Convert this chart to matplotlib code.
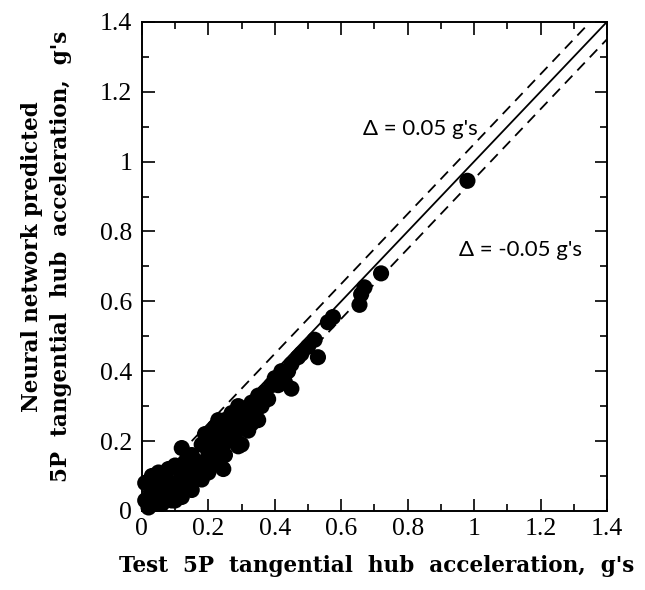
import matplotlib
matplotlib.use("Agg")
import matplotlib.pyplot as plt
import numpy as np

test_x = [0.01, 0.01, 0.03, 0.04, 0.05, 0.06, 0.07, 0.08, 0.09, 0.10, 0.11,
          0.05, 0.08, 0.10, 0.12, 0.13, 0.12, 0.14, 0.15, 0.16, 0.17, 0.18,
          0.19, 0.20, 0.21, 0.22, 0.23, 0.22, 0.24, 0.25, 0.26, 0.27, 0.27,
          0.28, 0.29, 0.30, 0.30, 0.31, 0.32, 0.33, 0.34, 0.35, 0.36, 0.37,
          0.38, 0.40, 0.42, 0.43, 0.45, 0.45, 0.47, 0.50, 0.52, 0.53, 0.56,
          0.575, 0.655, 0.66, 0.67, 0.72, 0.98, 0.245, 0.35, 0.29,
          0.15, 0.18, 0.20, 0.12, 0.02, 0.06, 0.10, 0.14, 0.17, 0.19,
          0.21, 0.24, 0.26, 0.28, 0.31, 0.33, 0.36, 0.39, 0.41, 0.44,
          0.48, 0.03, 0.07, 0.13, 0.16, 0.23, 0.25, 0.32]
pred_y = [0.08, 0.03, 0.05, 0.02, 0.07, 0.04, 0.10, 0.06, 0.03, 0.08, 0.05,
          0.11, 0.12, 0.13, 0.10, 0.14, 0.18, 0.12, 0.16, 0.09, 0.14, 0.19,
          0.22, 0.17, 0.21, 0.15, 0.19, 0.24, 0.22, 0.26, 0.20, 0.28, 0.23,
          0.25, 0.30, 0.27, 0.19, 0.24, 0.29, 0.31, 0.27, 0.33, 0.30, 0.34,
          0.32, 0.38, 0.40, 0.37, 0.35, 0.42, 0.44, 0.47, 0.49, 0.44, 0.54,
          0.555, 0.59, 0.62, 0.64, 0.68, 0.945, 0.12, 0.26, 0.185,
          0.06, 0.09, 0.11, 0.04, 0.01, 0.02, 0.03, 0.07, 0.12, 0.14,
          0.13, 0.17, 0.24, 0.21, 0.28, 0.25, 0.33, 0.36, 0.36, 0.40,
          0.45, 0.10, 0.08, 0.06, 0.11, 0.26, 0.16, 0.23]

delta = 0.05
ticks = [0, 0.2, 0.4, 0.6, 0.8, 1, 1.2, 1.4]
tick_labels = ["0", "0.2", "0.4", "0.6", "0.8", "1", "1.2", "1.4"]

serif = ["Liberation Serif", "DejaVu Serif"]
label_font = ["DejaVu Serif"]

fig = plt.figure(figsize=(6.45, 5.9), dpi=100)
ax = fig.add_axes([0.220, 0.134, 0.721, 0.829])

line = np.array([0.0, 1.4])
ax.plot(line, line, color="black", lw=1.3)
ax.plot(line, line + delta, color="black", lw=1.3, ls=(0, (6, 4)))
ax.plot(line, line - delta, color="black", lw=1.3, ls=(0, (6, 4)))

ax.scatter(test_x, pred_y, s=135, color="black", edgecolors="none", zorder=3,
           clip_on=False)

ax.set_xlim(0, 1.4)
ax.set_ylim(0, 1.4)
ax.set_xticks(ticks)
ax.set_yticks(ticks)
ax.set_xticklabels(tick_labels, family=serif, fontsize=18.5)
ax.set_yticklabels(tick_labels, family=serif, fontsize=18.5)
ax.set_xticks(np.arange(0.1, 1.4, 0.2), minor=True)
ax.set_yticks(np.arange(0.1, 1.4, 0.2), minor=True)
ax.tick_params(which="both", direction="in", top=True, right=True, width=1.2)
ax.tick_params(which="major", length=9)
ax.tick_params(axis="x", which="major", pad=5)
ax.tick_params(axis="y", which="major", pad=7)
ax.tick_params(which="minor", length=5)
for sp in ax.spines.values():
    sp.set_linewidth(1.4)

ax.set_xlabel("Test  5P  tangential  hub  acceleration,  g's", family=label_font,
              fontsize=15.5, fontweight="bold")
ax.xaxis.set_label_coords(0.505, -0.09)
ax.set_ylabel("Neural network predicted\n5P  tangential  hub  acceleration,  g's",
              family=label_font, fontsize=15.5, fontweight="bold",
              linespacing=1.4)
ax.yaxis.set_label_coords(-0.15, 0.52)

ann_font = ["Lato", "DejaVu Sans"]
ax.text(0.665, 1.075, "Δ = 0.05 g's", fontsize=16, family=ann_font)
ax.text(0.955, 0.73, "Δ = -0.05 g's", fontsize=16, family=ann_font)

fig.savefig("out.png", dpi=100)
